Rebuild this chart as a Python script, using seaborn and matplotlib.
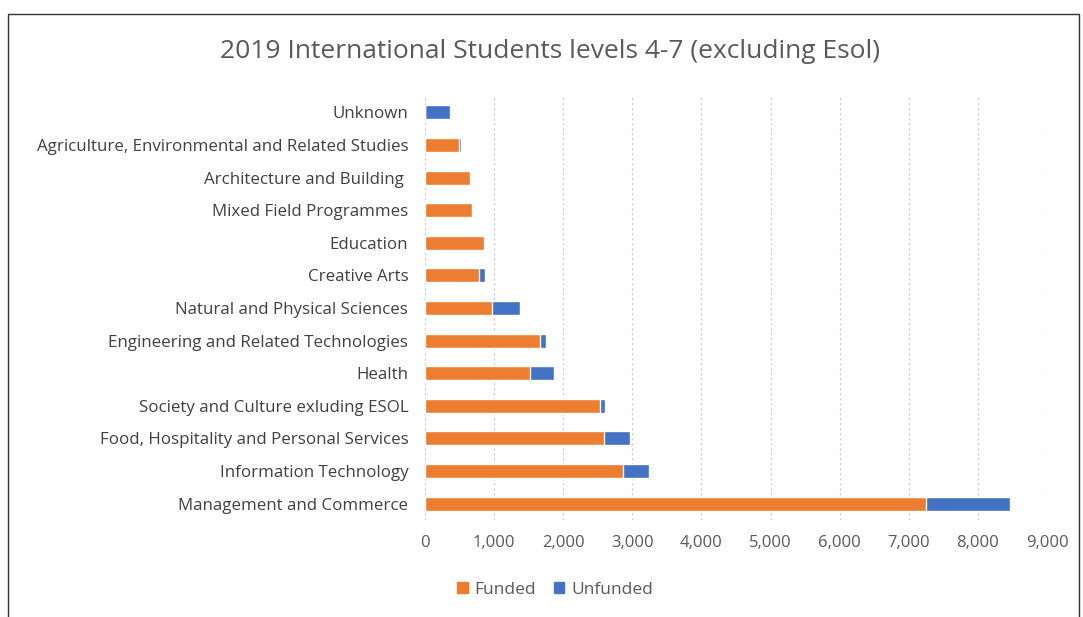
import matplotlib
matplotlib.use("Agg")
import matplotlib.pyplot as plt
import numpy as np
import pandas as pd
import seaborn as sns
from matplotlib.patches import Rectangle, Patch

# datos (de arriba a abajo)
categorias = [
    "Unknown",
    "Agriculture, Environmental and Related Studies",
    "Architecture and Building ",
    "Mixed Field Programmes",
    "Education",
    "Creative Arts",
    "Natural and Physical Sciences",
    "Engineering and Related Technologies",
    "Health",
    "Society and Culture exluding ESOL",
    "Food, Hospitality and Personal Services",
    "Information Technology",
    "Management and Commerce",
]
funded = [0, 495, 655, 685, 855, 780, 975, 1665, 1520, 2535, 2585, 2870, 7250]
unfunded = [355, 20, 0, 0, 20, 90, 405, 80, 345, 75, 380, 365, 1215]
ticks_x = [0, 1000, 2000, 3000, 4000, 5000, 6000, 7000, 8000, 9000]

naranja = "#ED7D31"
azul = "#4472C4"

df = pd.DataFrame({"categoria": categorias, "Funded": funded, "Unfunded": unfunded})
df["total"] = df["Funded"] + df["Unfunded"]

sns.set_style("white")
plt.rcParams["font.family"] = ["Open Sans", "DejaVu Sans"]

fig = plt.figure(figsize=(10.83, 6.17), dpi=100)
ax = fig.add_axes([425 / 1083, 1 - 520 / 617, (1047 - 425) / 1083, (520 - 96) / 617])

# total primero (azul) y encima lo financiado (naranja)
sns.barplot(data=df, y="categoria", x="total", color=azul, orient="h",
            width=0.43, saturation=1, ax=ax)
sns.barplot(data=df, y="categoria", x="Funded", color=naranja, orient="h",
            width=0.43, saturation=1, ax=ax)

ax.set_xlim(0, 9000)
ax.set_xticks(ticks_x)
ax.set_xticklabels([f"{t:,}" for t in ticks_x], color="#595959", fontsize=12)
ax.tick_params(axis="y", labelsize=12.2, labelcolor="#404040", length=0, pad=12)
ax.tick_params(axis="x", length=0, pad=11)
ax.set_xlabel("")
ax.set_ylabel("")
ax.grid(axis="x", color="#D0D0D0", linestyle=(0, (2, 2)), linewidth=0.9)
ax.set_axisbelow(True)
for s in ax.spines.values():
    s.set_visible(False)

fig.text(550 / 1083, 1 - 51 / 617, "2019 International Students levels 4-7 (excluding Esol)",
         ha="center", va="center", fontsize=19, color="#595959")

handles = [Patch(color=naranja, label="Funded"), Patch(color=azul, label="Unfunded")]
fig.legend(handles=handles, loc="center", bbox_to_anchor=(555 / 1083, 1 - 590 / 617),
           ncol=2, frameon=False, fontsize=12.5, handlelength=0.6, handleheight=0.6,
           columnspacing=1.0, handletextpad=0.4, labelcolor="#595959")

# marco de la imagen
fig.patches.append(Rectangle((8 / 1083, -0.1), (1079 - 8) / 1083, 1.1 - 14 / 617,
                             transform=fig.transFigure, fill=False,
                             edgecolor="#333333", linewidth=1))

fig.savefig("out.png", dpi=100)
